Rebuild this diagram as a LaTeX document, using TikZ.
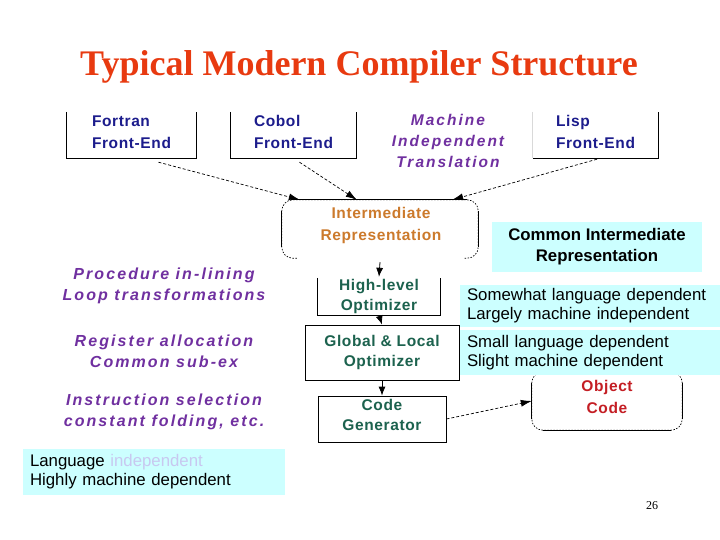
\documentclass[tikz,border=0pt]{standalone}
\usepackage{fontspec}
\setmainfont{Liberation Serif}
\newfontfamily\sfA{Liberation Sans}
\newfontfamily\sfN[LetterSpace=4]{Liberation Sans}
\newfontfamily\sfW[LetterSpace=13]{Liberation Sans}
\usetikzlibrary{arrows.meta,calc}
\definecolor{titlered}{RGB}{232,58,16}
\definecolor{navyc}{RGB}{28,28,140}
\definecolor{purplec}{RGB}{112,48,160}
\definecolor{greenc}{RGB}{28,98,78}
\definecolor{orangec}{RGB}{204,122,44}
\definecolor{objred}{RGB}{196,30,36}
\definecolor{cyanbg}{RGB}{204,255,255}
\definecolor{lavender}{RGB}{200,200,240}
\tikzset{
  titlestyle/.style={font=\fontsize{36}{40}\selectfont\bfseries, text=titlered, inner sep=0pt},
  fetext/.style={font=\sfN\bfseries\fontsize{15.5}{22}\selectfont, text=navyc, align=left, inner sep=0pt},
  mittext/.style={font=\sfW\bfseries\itshape\fontsize{15.5}{21}\selectfont, text=purplec, align=center, inner sep=0pt},
  purtext/.style={font=\sfW\bfseries\itshape\fontsize{16}{21}\selectfont, text=purplec, align=center, inner sep=0pt},
  grtext/.style={font=\sfN\bfseries\fontsize{15.5}{20}\selectfont, text=greenc, align=center, inner sep=0pt},
  irtext/.style={font=\sfN\bfseries\fontsize{15.5}{22}\selectfont, text=orangec, align=center, inner sep=0pt},
  objtext/.style={font=\sfN\bfseries\fontsize{15.5}{22}\selectfont, text=objred, align=center, inner sep=0pt},
  bluebox/.style={fill=cyanbg, draw=none, inner xsep=7pt, inner ysep=0pt, align=left,
     font=\sfA\fontsize{16.8}{19}\selectfont},
  boxline/.style={draw=black, line width=0.8pt},
  cornerline/.style={draw=black, line width=0.7pt, dash pattern=on 1.5pt off 1.5pt},
  dasharrow/.style={draw=black, line width=0.7pt, dash pattern=on 3pt off 2pt, -{Latex[length=11pt,width=7pt]}},
  solidarrow/.style={draw=black, line width=0.8pt, -{Latex[length=9pt,width=7pt]}},
}
\begin{document}
\begin{tikzpicture}[x=1pt,y=-1pt]
\useasboundingbox[fill=white] (0,0) rectangle (720,540);

% title
\node[titlestyle, anchor=base] (title) at (359,76) {Typical Modern Compiler Structure};

% front ends (open-top boxes)
\node[minimum width=129pt, minimum height=46pt, inner sep=0pt] (fortran) at (131.5,135) {};
\node[minimum width=125pt, minimum height=46pt, inner sep=0pt] (cobol) at (293.5,135) {};
\node[minimum width=125pt, minimum height=46pt, inner sep=0pt] (lisp) at (595.5,135) {};
\node[fetext] (fortrantxt) at (131.5,132) {Fortran\\Front-End};
\node[fetext] (cobottxt) at (293.5,132) {Cobol\\Front-End};
\node[fetext] (lisptxt) at (595.5,132) {Lisp\\Front-End};
\draw[boxline] (fortran.north west) -- (fortran.south west) -- (fortran.south east) -- (fortran.north east);
\draw[boxline] (cobol.north west) -- (cobol.south west) -- (cobol.south east) -- (cobol.north east);
\draw[draw=black!15, line width=0.8pt] (lisp.north west) -- (lisp.south west);
\draw[boxline] (lisp.south west) -- (lisp.south east) -- (lisp.north east);

\node[mittext] (mit) at (448,141) {Machine\\Independent\\Translation};

% intermediate representation
\node[minimum width=196pt, minimum height=58pt, inner sep=0pt] (ir) at (380,229) {};
\node[irtext] (irtxt) at (381,225) {Intermediate\\Representation};
\draw[cornerline, rounded corners=11pt] ([xshift=15pt]ir.south west) -- (ir.south west) -- (ir.north west) -- (ir.north east) -- (ir.south east) -- ([xshift=-15pt]ir.south east);
\draw[boxline] ([xshift=11pt]ir.north west) -- ([xshift=-11pt]ir.north east);
\draw[boxline] ([yshift=-11pt]ir.north west) -- ([yshift=11pt]ir.south west);
\draw[boxline] ([yshift=-11pt]ir.north east) -- ([yshift=11pt]ir.south east);

% optimizer chain
\node[grtext, minimum width=122pt, minimum height=37pt] (hl) at (379,296.5) {High-level\\Optimizer};
\draw[boxline] (hl.north west) -- (hl.south west) -- (hl.south east) -- (hl.north east);
\node[grtext, draw=black, line width=0.8pt, minimum width=154pt, minimum height=55pt] (gl) at (382,352.5) {Global \& Local\\Optimizer};
\node[draw=black, line width=0.8pt, minimum width=128pt, minimum height=46pt, inner sep=0pt] (cg) at (382,419) {};
\node[grtext] (cgtxt) at (382,415) {Code\\Generator};

% object code
\node[minimum width=150pt, minimum height=58pt, inner sep=0pt] (obj) at (607,401) {};
\draw[cornerline, rounded corners=11pt] (obj.south west) rectangle (obj.north east);
\draw[boxline] ([yshift=-11pt]obj.north west) -- ([yshift=11pt]obj.south west);
\draw[boxline] ([yshift=-11pt]obj.north east) -- ([yshift=11pt]obj.south east);
\draw[boxline] ([xshift=11pt]obj.south west) -- ([xshift=-11pt]obj.south east);
\node[objtext] (objtxt) at (607,397) {Object\\Code};

% arrows
\draw[dasharrow] ([xshift=27pt,yshift=-4pt]fortran.south) -- ([xshift=18pt]ir.north west);
\draw[dasharrow] ([xshift=6pt,yshift=-4pt]cobol.south) -- ([xshift=75pt]ir.north west);
\draw[dasharrow] ([xshift=1.5pt,yshift=-1pt]lisp.south) -- ([xshift=-26pt]ir.north east);
\draw[solidarrow] ([yshift=-4pt]ir.south) -- ([yshift=1pt]hl.north);
\draw[solidarrow] (hl.south) -- (gl.north);
\draw[solidarrow] (gl.south) -- (cg.north);
\draw[dasharrow] (cg.east) -- (obj.west);

% left purple descriptions
\node[purtext] (p1) at (164,286) {Procedure in-lining\\Loop transformations};
\node[purtext] (p2) at (164,351) {Register allocation\\Common sub-ex};
\node[purtext] (p3) at (164,412) {Instruction selection\\constant folding, etc.};

% cyan annotation boxes
\node[bluebox, align=center, font=\sfA\bfseries\fontsize{16.8}{21}\selectfont, minimum width=210pt, minimum height=50pt] (cir) at (597,247) {Common Intermediate\\Representation};
\node[bluebox, text width=246pt, minimum height=42pt] (sld) at (590,306) {Somewhat language dependent\\Largely machine independent};
\node[bluebox, text width=246pt, minimum height=45pt] (sml) at (590,352.5) {Small language dependent\\Slight machine dependent};
\node[bluebox, text width=248pt, minimum height=46pt] (lid) at (154,472) {Language \textcolor{lavender}{independent}\\Highly machine dependent};

% page number
\node[font=\fontsize{12}{14}\selectfont, inner sep=0pt, anchor=base] (pg) at (652,509) {26};
\end{tikzpicture}
\end{document}
